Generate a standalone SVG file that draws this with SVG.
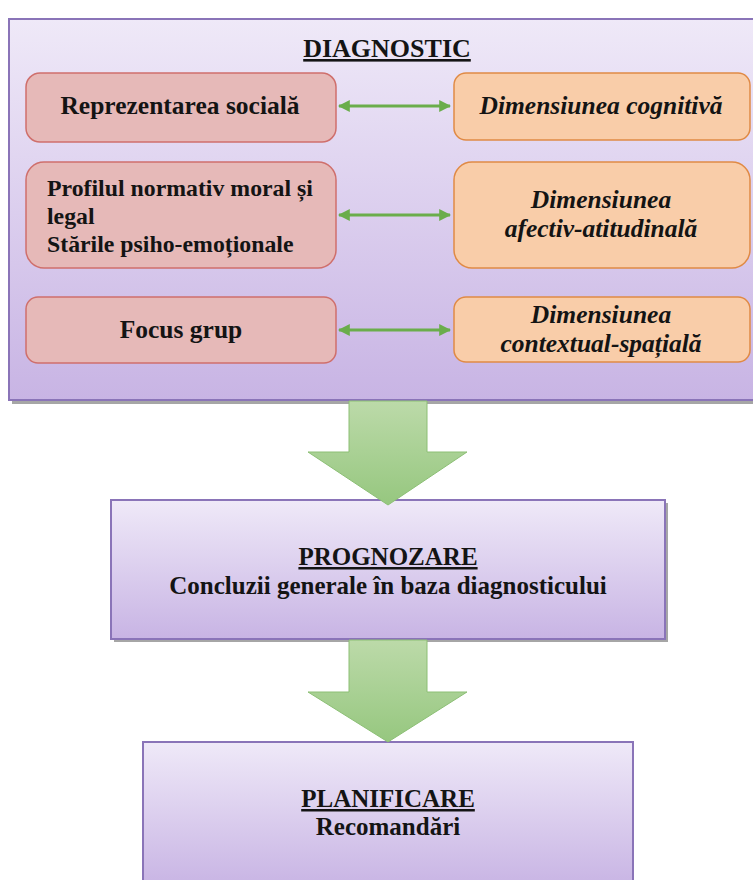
<svg xmlns="http://www.w3.org/2000/svg" width="753" height="880" viewBox="0 0 753 880">
<defs>
<linearGradient id="purp" x1="0" y1="0" x2="0" y2="1">
<stop offset="0" stop-color="#efe9f8"/>
<stop offset="1" stop-color="#c8b4e4"/>
</linearGradient>
<linearGradient id="grn" x1="0" y1="0" x2="0" y2="1">
<stop offset="0" stop-color="#bcdaa9"/>
<stop offset="1" stop-color="#96c77f"/>
</linearGradient>
<marker id="ah" viewBox="0 0 10 10" refX="9" refY="5" markerWidth="4" markerHeight="4" orient="auto-start-reverse">
<path d="M0,0 L10,5 L0,10 z" fill="#6aad4b"/>
</marker>
<style>
.shadow{fill:#a6a6a6;}
.pbox{fill:url(#purp);stroke:#8a74b8;stroke-width:2;}
.rbox{fill:#e6b9b8;stroke:#cf6f6c;stroke-width:1.5;}
.obox{fill:#f9cda9;stroke:#e08a45;stroke-width:1.5;}
.t{font-weight:bold;fill:#141414;text-anchor:middle;}
.l{text-anchor:start;}
.i{font-style:italic;}
.u{text-decoration:underline;}
.dbl{stroke:#6aad4b;stroke-width:3;fill:none;marker-start:url(#ah);marker-end:url(#ah);}
.big{fill:url(#grn);stroke:#8cbf75;stroke-width:1;}
</style>
</defs>

<g font-family="Liberation Serif, Times New Roman, DejaVu Serif, serif">
<g id="diagnostic">
<rect class="shadow" x="12" y="22" width="760" height="382"/>
<rect class="pbox" x="9" y="19" width="760" height="381"/>
<text class="t u" x="387" y="57" font-size="26">DIAGNOSTIC</text>
</g>

<g id="reprezentarea">
<rect class="rbox" x="26" y="73" width="310" height="69" rx="14"/>
<text class="t" x="180" y="114" font-size="25.5">Reprezentarea socială</text>
</g>
<g id="cognitiva">
<rect class="obox" x="454" y="73" width="296" height="67" rx="12"/>
<text class="t i" x="601" y="114" font-size="25.5">Dimensiunea cognitivă</text>
</g>
<g id="profilul">
<rect class="rbox" x="26" y="162" width="310" height="106" rx="18"/>
<text class="t l" x="47" y="196" font-size="23.8">Profilul normativ moral și</text>
<text class="t l" x="47" y="224" font-size="23.8">legal</text>
<text class="t l" x="47" y="252" font-size="23.8">Stările psiho-emoționale</text>
</g>
<g id="afectiv">
<rect class="obox" x="454" y="162" width="296" height="106" rx="18"/>
<text class="t i" x="601" y="208" font-size="25.5">Dimensiunea</text>
<text class="t i" x="601" y="237" font-size="25.5">afectiv-atitudinală</text>
</g>
<g id="focus">
<rect class="rbox" x="26" y="297" width="310" height="66" rx="12"/>
<text class="t" x="181" y="338" font-size="25.5">Focus grup</text>
</g>
<g id="contextual">
<rect class="obox" x="454" y="297" width="296" height="65" rx="12"/>
<text class="t i" x="601" y="323" font-size="25.5">Dimensiunea</text>
<text class="t i" x="601" y="352" font-size="25.5">contextual-spațială</text>
</g>

<g id="prognozare">
<rect class="shadow" x="114" y="503" width="554" height="139"/>
<rect class="pbox" x="111" y="500" width="554" height="139"/>
<text class="t u" x="388" y="565" font-size="25">PROGNOZARE</text>
<text class="t" x="388" y="594" font-size="25">Concluzii generale în baza diagnosticului</text>
</g>

<g id="planificare">
<rect class="pbox" x="143" y="742" width="490" height="145"/>
<text class="t u" x="388" y="807" font-size="25">PLANIFICARE</text>
<text class="t" x="388" y="835" font-size="25">Recomandări</text>
</g>
</g>

<g id="connectors">
<line class="dbl" x1="339" y1="106" x2="450" y2="106"/>
<line class="dbl" x1="339" y1="215" x2="450" y2="215"/>
<line class="dbl" x1="339" y1="330" x2="450" y2="330"/>
<path class="big" d="M349,401 L427,401 L427,452 L467,452 L388,505 L308,452 L349,452 Z"/>
<path class="big" d="M349,640 L427,640 L427,692 L467,692 L388,742 L308,692 L349,692 Z"/>
</g>
</svg>
